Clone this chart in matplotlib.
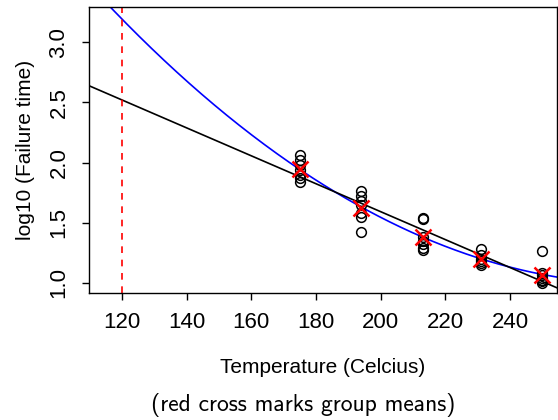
import matplotlib
import numpy as np

matplotlib.use('Agg')
import matplotlib.pyplot as plt

# Failure data: temperature (Celcius) and log10 failure time
temps = [175, 194, 213, 231, 250]
log_times = [
    [2.06, 2.02, 1.98, 1.94, 1.90, 1.87, 1.84],
    [1.76, 1.72, 1.68, 1.65, 1.58, 1.55, 1.42],
    [1.54, 1.53, 1.38, 1.35, 1.32, 1.29, 1.27],
    [1.28, 1.23, 1.20, 1.18, 1.16, 1.15],
    [1.26, 1.08, 1.06, 1.04, 1.02, 1.01, 1.00],
]
design_temp = 120

x_all = np.concatenate([[t] * len(v) for t, v in zip(temps, log_times)])
y_all = np.concatenate(log_times)
group_means = [np.mean(v) for v in log_times]

# Linear and quadratic fits
lin = np.polyfit(x_all, y_all, 1)
quad = np.polyfit(x_all, y_all, 2)

plt.rcParams['font.family'] = ['Liberation Sans', 'DejaVu Sans']

fig = plt.figure(figsize=(5.58, 4.2), dpi=100)
ax = fig.add_axes([89 / 558, 1 - 293 / 420, 468 / 558, 286 / 420])

xlim = (109.8, 254.5)
ylim = (0.914, 3.295)
xs = np.linspace(xlim[0], xlim[1], 300)

ax.plot(xs, np.polyval(quad, xs), color='blue', lw=1.2)
ax.plot(xs, np.polyval(lin, xs), color='black', lw=1.2)
ax.axvline(design_temp, color='red', linestyle=(0, (4, 4)), lw=1.2)

ax.plot(x_all, y_all, linestyle='none', marker='o', markersize=7,
        markerfacecolor='none', markeredgecolor='black', markeredgewidth=1.1)
ax.plot(temps, group_means, linestyle='none', marker='x', markersize=12,
        markeredgecolor='red', markeredgewidth=1.8)

ax.set_xlim(*xlim)
ax.set_ylim(*ylim)
ax.set_xticks([120, 140, 160, 180, 200, 220, 240])
ax.set_yticks([1.0, 1.5, 2.0, 2.5, 3.0])
ax.set_yticklabels(['1.0', '1.5', '2.0', '2.5', '3.0'], rotation=90, va='center')
ax.tick_params(labelsize=16, length=5, width=1, pad=9)
for s in ax.spines.values():
    s.set_linewidth(1)

ax.set_xlabel('Temperature (Celcius)', fontsize=15, labelpad=18)
ax.set_ylabel('log10 (Failure time)', fontsize=15, labelpad=10)

fig.text(303 / 558, 1 - 405 / 420, '(red cross marks group means)',
         fontsize=17, family='cmss10', ha='center', va='center')

plt.savefig('out.png', dpi=100)
